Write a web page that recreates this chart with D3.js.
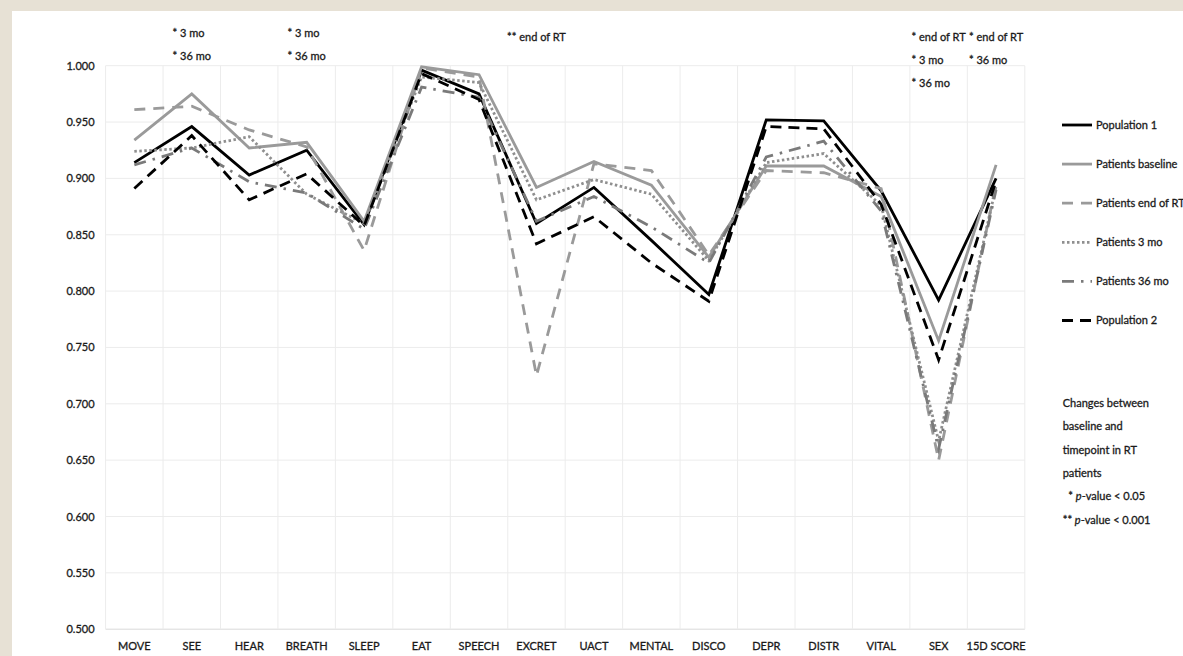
<!DOCTYPE html>
<html>
<head>
<meta charset="utf-8">
<title>15D profile</title>
<script src="https://d3js.org/d3.v7.min.js"></script>
<style>
  html, body { margin: 0; padding: 0; background: #e7e1d5; }
  svg { display: block; }
  text { font-family: Lato, "Open Sans", sans-serif; fill: #1a1a1a; stroke: #1a1a1a; stroke-width: 0.3px; }
</style>
</head>
<body>
<svg id="chart"></svg>
<script>
// categories of the 15D instrument
const categories = ["MOVE", "SEE", "HEAR", "BREATH", "SLEEP", "EAT", "SPEECH", "EXCRET",
  "UACT", "MENTAL", "DISCO", "DEPR", "DISTR", "VITAL", "SEX", "15D SCORE"];

// mean values
const population1 = [0.914, 0.946, 0.903, 0.925, 0.859, 0.996, 0.975, 0.860, 0.892, 0.845, 0.797, 0.952, 0.951, 0.889, 0.792, 0.900];
const patientsBaseline = [0.934, 0.975, 0.927, 0.932, 0.862, 0.999, 0.992, 0.892, 0.915, 0.894, 0.830, 0.911, 0.911, 0.884, 0.756, 0.912];
const patientsEndRT = [0.961, 0.964, 0.943, 0.928, 0.836, 0.998, 0.990, 0.725, 0.913, 0.907, 0.832, 0.907, 0.905, 0.891, 0.650, 0.895];
const patients3mo = [0.924, 0.927, 0.937, 0.886, 0.860, 0.990, 0.985, 0.881, 0.899, 0.886, 0.827, 0.914, 0.922, 0.876, 0.667, 0.893];
const patients36mo = [0.912, 0.927, 0.897, 0.887, 0.855, 0.981, 0.972, 0.862, 0.884, 0.857, 0.825, 0.919, 0.933, 0.871, 0.660, 0.890];
const population2 = [0.891, 0.938, 0.881, 0.904, 0.858, 0.993, 0.970, 0.842, 0.866, 0.825, 0.791, 0.946, 0.944, 0.877, 0.739, 0.898];

const seriesNames = ["Population 1", "Patients baseline", "Patients end of RT", "Patients 3 mo", "Patients 36 mo", "Population 2"];
const seriesValues = [population1, patientsBaseline, patientsEndRT, patients3mo, patients36mo, population2];

// y axis ticks
const yTicks = [0.5, 0.55, 0.6, 0.65, 0.7, 0.75, 0.8, 0.85, 0.9, 0.95, 1.0];

// significance notes above the categories
const noteCategories = ["SEE", "BREATH", "EXCRET", "SEX", "15D SCORE"];
const noteLines = [["* 3 mo", "* 36 mo"], ["* 3 mo", "* 36 mo"], ["** end of RT"],
  ["* end of RT", "* 3 mo", "* 36 mo"], ["* end of RT", "* 36 mo"]];

const W = 1183, H = 656;
const plotLeft = 105.6, plotRight = 1024.8, plotTop = 65.7, plotBottom = 629.2;

const styles = [
  { color: "#000000", dash: null },
  { color: "#9a9a9a", dash: null },
  { color: "#9a9a9a", dash: "11,8" },
  { color: "#8f8f8f", dash: "2.5,2.5" },
  { color: "#7a7a7a", dash: "12,7,2.5,7" },
  { color: "#000000", dash: "11,7" }
];

const svg = d3.select("#chart").attr("width", W).attr("height", H);

// white panel on the beige page
svg.append("rect").attr("x", 12).attr("y", 11).attr("width", W - 12).attr("height", H - 11).attr("fill", "#ffffff");

const x = d3.scaleBand().domain(categories).range([plotLeft, plotRight]).padding(0);
const y = d3.scaleLinear().domain([0.5, 1.0]).range([plotBottom, plotTop]);
const cx = c => x(c) + x.bandwidth() / 2;

// horizontal grid
svg.append("g")
  .selectAll("line")
  .data(yTicks)
  .join("line")
  .attr("x1", plotLeft).attr("x2", plotRight)
  .attr("y1", d => y(d)).attr("y2", d => y(d))
  .attr("stroke", d => d === 0.5 ? "#d9d9d9" : "#ececec")
  .attr("stroke-width", 1);

// vertical grid at category boundaries
svg.append("g")
  .selectAll("line")
  .data(categories.map(c => x(c)).concat([plotRight]))
  .join("line")
  .attr("x1", d => d).attr("x2", d => d)
  .attr("y1", plotTop).attr("y2", plotBottom)
  .attr("stroke", "#ececec")
  .attr("stroke-width", 1);

// y axis labels
const yAxis = svg.append("g")
  .attr("transform", `translate(${plotLeft},0)`)
  .call(d3.axisLeft(y).tickValues(yTicks).tickFormat(d3.format(".3f")).tickSize(0).tickPadding(11));
yAxis.select(".domain").remove();
yAxis.selectAll("text").style("font-family", "Lato, sans-serif").style("font-size", "11px").style("fill", "#1a1a1a");

// x axis labels
const xAxis = svg.append("g")
  .attr("transform", `translate(0,${plotBottom})`)
  .call(d3.axisBottom(x).tickSize(0).tickPadding(13));
xAxis.select(".domain").remove();
xAxis.selectAll("text").style("font-family", "Lato, sans-serif").style("font-size", "11px").style("fill", "#1a1a1a");

// series lines
const line = d3.line().x((d, i) => cx(categories[i])).y(d => y(d));
svg.append("g")
  .selectAll("path")
  .data(seriesValues)
  .join("path")
  .attr("d", d => line(d))
  .attr("fill", "none")
  .attr("stroke", (d, i) => styles[i].color)
  .attr("stroke-width", 2.8)
  .attr("stroke-dasharray", (d, i) => styles[i].dash)
  .attr("stroke-linejoin", "miter")
  .attr("stroke-miterlimit", 10);

// notes above the plot
const noteTop = [33, 33, 37, 37, 37];
noteCategories.forEach((c, k) => {
  const g = svg.append("g");
  const texts = g.selectAll("text")
    .data(noteLines[k])
    .join("text")
    .attr("y", (d, i) => noteTop[k] + 3.5 + i * 23.3)
    .style("font-size", "11px")
    .text(d => d);
  const wmax = d3.max(texts.nodes(), n => n.getComputedTextLength());
  texts.attr("x", cx(c) - wmax / 2);
});

// legend
const legend = svg.append("g").attr("transform", "translate(1062,125)");
const item = legend.selectAll("g")
  .data(seriesNames)
  .join("g")
  .attr("transform", (d, i) => `translate(0,${i * 39.1})`);
item.append("line")
  .attr("x1", 0).attr("x2", 30).attr("y1", 0).attr("y2", 0)
  .attr("stroke", (d, i) => styles[i].color)
  .attr("stroke-width", 2.8)
  .attr("stroke-dasharray", (d, i) => styles[i].dash);
item.append("text")
  .attr("x", 34).attr("y", 3.8)
  .style("font-size", "11px")
  .text(d => d);

// p-value explanation
const expl = svg.append("g").attr("transform", "translate(1062.7,403.3)");
["Changes between", "baseline and", "timepoint in RT", "patients"].forEach((t, i) => {
  expl.append("text").attr("y", 3.8 + i * 23.3).style("font-size", "11px").text(t);
});
[["  * ", "< 0.05"], ["** ", "< 0.001"]].forEach((p, i) => {
  const t = expl.append("text").attr("y", 3.8 + (4 + i) * 23.3).style("font-size", "11px").attr("xml:space", "preserve");
  t.append("tspan").text(p[0]);
  t.append("tspan").style("font-style", "italic").text("p");
  t.append("tspan").text("-value " + p[1]);
});
</script>
</body>
</html>
